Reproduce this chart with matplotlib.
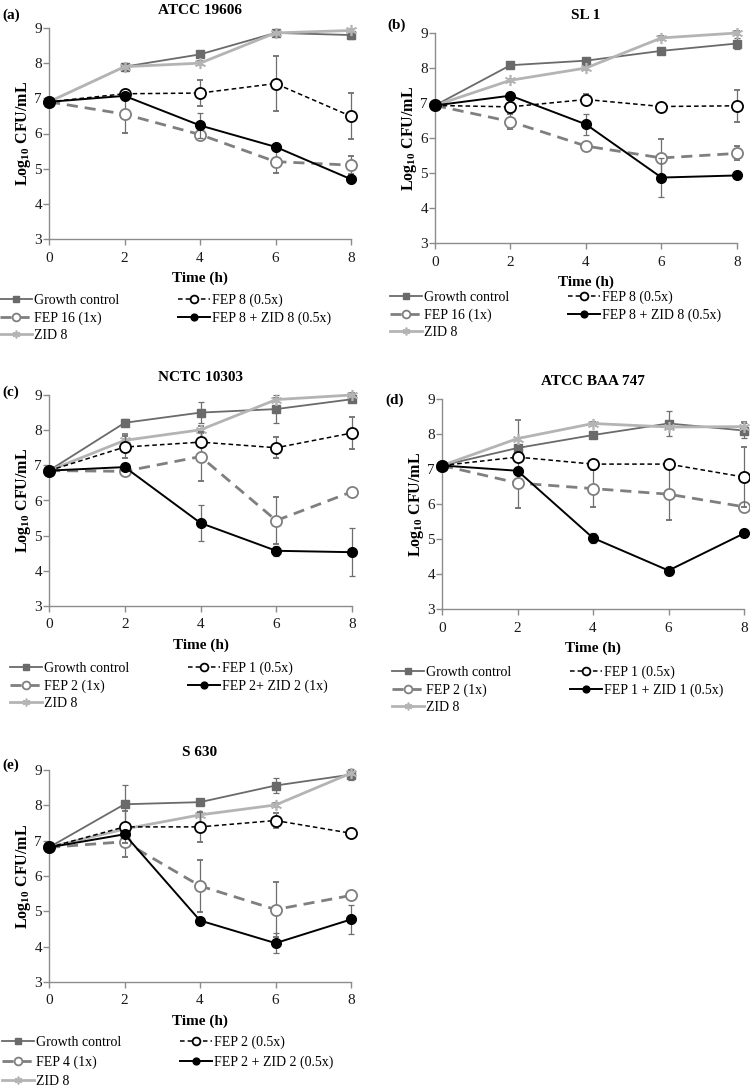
import numpy as np
import matplotlib
matplotlib.use('Agg')
import matplotlib.pyplot as plt

plt.rcParams['font.family'] = ['Liberation Serif', 'DejaVu Serif']
plt.rcParams['mathtext.fontset'] = 'custom'
plt.rcParams['mathtext.rm'] = 'Liberation Serif'
plt.rcParams['mathtext.bf'] = 'Liberation Serif:bold'

# time points (h)
hours = [0, 2, 4, 6, 8]

# panel titles and letters
titles = ['ATCC 19606', 'SL 1', 'NCTC 10303', 'ATCC BAA 747', 'S 630']
letters = ['(a)', '(b)', '(c)', '(d)', '(e)']

# legend labels per panel: growth, FEP 0.5x, FEP 1x, combination, ZID
labels_a = ['Growth control', 'FEP 8 (0.5x)', 'FEP 16 (1x)', 'FEP 8 + ZID 8 (0.5x)', 'ZID 8']
labels_b = ['Growth control', 'FEP 8 (0.5x)', 'FEP 16 (1x)', 'FEP 8 + ZID 8 (0.5x)', 'ZID 8']
labels_c = ['Growth control', 'FEP 1 (0.5x)', 'FEP 2 (1x)', 'FEP 2+ ZID 2 (1x)', 'ZID 8']
labels_d = ['Growth control', 'FEP 1 (0.5x)', 'FEP 2 (1x)', 'FEP 1 + ZID 1 (0.5x)', 'ZID 8']
labels_e = ['Growth control', 'FEP 2 (0.5x)', 'FEP 4 (1x)', 'FEP 2 + ZID 2 (0.5x)', 'ZID 8']

# (a) ATCC 19606
gc_a = [6.9, 7.9, 8.25, 8.86, 8.8]
gc_a_err = [0, 0.1, 0.05, 0.05, 0.12]
half_a = [6.9, 7.13, 7.15, 7.42, 6.49]
half_a_err = [0, 0.05, 0.36, 0.78, 0.66]
one_a = [6.9, 6.55, 5.97, 5.2, 5.1]
one_a_err = [0, 0.53, 0.08, 0.33, 0.25]
combo_a = [6.9, 7.07, 6.23, 5.62, 4.7]
combo_a_err = [0, 0.05, 0.35, 0.05, 0.08]
zid_a = [6.9, 7.9, 8.0, 8.86, 8.93]
zid_a_err = [0, 0.05, 0.05, 0.05, 0.05]

# (b) SL 1
gc_b = [6.93, 8.08, 8.21, 8.49, 8.7]
gc_b_err = [0, 0.05, 0.05, 0.05, 0.15]
half_b = [6.93, 6.89, 7.1, 6.9, 6.92]
half_b_err = [0, 0.1, 0.15, 0.05, 0.45]
one_b = [6.93, 6.47, 5.77, 5.43, 5.56]
one_b_err = [0, 0.22, 0.05, 0.55, 0.2]
combo_b = [6.93, 7.21, 6.39, 4.87, 4.93]
combo_b_err = [0, 0.05, 0.3, 0.55, 0.05]
zid_b = [6.93, 7.65, 8.0, 8.86, 9.0]
zid_b_err = [0, 0.05, 0.05, 0.05, 0.05]

# (c) NCTC 10303
gc_c = [6.85, 8.21, 8.5, 8.6, 8.88]
gc_c_err = [0, 0.1, 0.3, 0.4, 0.05]
half_c = [6.85, 7.52, 7.66, 7.5, 7.92]
half_c_err = [0, 0.3, 0.1, 0.3, 0.45]
one_c = [6.85, 6.83, 7.25, 5.43, 6.25]
one_c_err = [0, 0.05, 0.7, 0.67, 0.05]
combo_c = [6.85, 6.95, 5.36, 4.57, 4.53]
combo_c_err = [0, 0.05, 0.5, 0.15, 0.68]
zid_c = [6.85, 7.71, 8.01, 8.87, 9.0]
zid_c_err = [0, 0.18, 0.1, 0.05, 0.05]

# (d) ATCC BAA 747
gc_d = [7.1, 7.6, 7.97, 8.3, 8.1]
gc_d_err = [0, 0.05, 0.05, 0.35, 0.22]
half_d = [7.1, 7.34, 7.14, 7.14, 6.77]
half_d_err = [0, 0.05, 0.05, 0.05, 0.85]
one_d = [7.1, 6.6, 6.44, 6.28, 5.92]
one_d_err = [0, 0.7, 0.53, 0.75, 0.05]
combo_d = [7.1, 6.95, 5.03, 4.1, 5.16]
combo_d_err = [0, 0.05, 0.15, 0.07, 0.05]
zid_d = [7.1, 7.87, 8.3, 8.2, 8.21]
zid_d_err = [0, 0.53, 0.05, 0.05, 0.12]

# (e) S 630
gc_e = [6.81, 8.03, 8.09, 8.56, 8.87]
gc_e_err = [0, 0.55, 0.08, 0.2, 0.15]
half_e = [6.81, 7.39, 7.39, 7.57, 7.21]
half_e_err = [0, 0.45, 0.42, 0.22, 0.05]
one_e = [6.81, 6.97, 5.72, 5.05, 5.45]
one_e_err = [0, 0.42, 0.73, 0.78, 0.05]
combo_e = [6.81, 7.18, 4.74, 4.1, 4.77]
combo_e_err = [0, 0.05, 0.05, 0.28, 0.4]
zid_e = [6.81, 7.33, 7.73, 8.01, 8.91]
zid_e_err = [0, 0.05, 0.05, 0.05, 0.1]

panels = [
    (gc_a, gc_a_err, half_a, half_a_err, one_a, one_a_err, combo_a, combo_a_err, zid_a, zid_a_err, labels_a),
    (gc_b, gc_b_err, half_b, half_b_err, one_b, one_b_err, combo_b, combo_b_err, zid_b, zid_b_err, labels_b),
    (gc_c, gc_c_err, half_c, half_c_err, one_c, one_c_err, combo_c, combo_c_err, zid_c, zid_c_err, labels_c),
    (gc_d, gc_d_err, half_d, half_d_err, one_d, one_d_err, combo_d, combo_d_err, zid_d, zid_d_err, labels_d),
    (gc_e, gc_e_err, half_e, half_e_err, one_e, one_e_err, combo_e, combo_e_err, zid_e, zid_e_err, labels_e),
]

W, H = 750.0, 1090.0
# axes boxes in pixels: left, right, top, bottom
boxes = [(49, 351, 28, 239), (435, 737, 33, 243), (49, 352, 395, 606),
         (442, 744, 399, 609), (49, 351, 770, 982)]
letter_pos = [(2, 15), (387, 25), (2, 392), (385, 400), (2, 765)]
# legend upper-left corner (px) and row spacing
legend_pos = [(0, 294, 0.3), (390, 291, 0.3), (10, 662, 0.3), (392, 666, 0.3), (2, 1036, 0.45)]

fig = plt.figure(figsize=(7.5, 10.9), dpi=100)

axis_col = '#8c8c8c'
err_col = '#6e6e6e'

for i, p in enumerate(panels):
    gc, gce, hf, hfe, on, one, cb, cbe, zd, zde, labs = p
    l, r, t, b = boxes[i]
    ax = fig.add_axes([l / W, 1 - b / H, (r - l) / W, (b - t) / H])

    ekw = dict(ecolor=err_col, elinewidth=0.9, capsize=2.5, capthick=0.9, clip_on=False)
    h1 = ax.errorbar(hours, gc, yerr=gce, color='#6a6a6a', lw=1.3, marker='s', ms=5.5,
                     mfc='#6a6a6a', mec='#6a6a6a', label=labs[0], zorder=3, **ekw)
    h2 = ax.errorbar(hours, hf, yerr=hfe, color='black', lw=1.1, ls=(0, (3, 2)), marker='o', ms=8,
                     mfc='white', mec='black', mew=1.3, label=labs[1], zorder=5, **ekw)
    h3 = ax.errorbar(hours, on, yerr=one, color='#7f7f7f', lw=2.0, ls=(0, (4, 2.5)), marker='o', ms=8,
                     mfc='white', mec='#7f7f7f', mew=1.3, label=labs[2], zorder=4, **ekw)
    h4 = ax.errorbar(hours, cb, yerr=cbe, color='black', lw=1.4, marker='o', ms=7,
                     mfc='black', mec='black', label=labs[3], zorder=6, **ekw)
    h5 = ax.errorbar(hours, zd, yerr=zde, color='#b4b4b4', lw=2.0, marker=(6, 2, 0), ms=8,
                     mec='#b4b4b4', mew=1.2, label=labs[4], zorder=3, **ekw)
    for h in (h1, h2, h3, h4, h5):
        for art in h.lines:
            if hasattr(art, 'set_clip_on'):
                art.set_clip_on(False)

    ax.set_xlim(0, 8)
    ax.set_ylim(3, 9)
    ax.set_xticks([0, 2, 4, 6, 8])
    ax.set_yticks([3, 4, 5, 6, 7, 8, 9])
    for s in ('top', 'right'):
        ax.spines[s].set_visible(False)
    for s in ('left', 'bottom'):
        ax.spines[s].set_color(axis_col)
        ax.spines[s].set_linewidth(1.0)
    ax.tick_params(axis='both', colors=axis_col, labelcolor='#1a1a1a', labelsize=11, width=1.0)
    ax.tick_params(axis='x', direction='out', length=4, pad=5)
    ax.tick_params(axis='y', direction='out', length=4, pad=1)

    ax.set_xlabel('Time (h)', fontsize=11, fontweight='bold', labelpad=5)
    ax.set_ylabel(r'Log$_{\mathbf{10}}$ CFU/mL', fontsize=11.5, fontweight='bold', labelpad=1)
    ax.set_title(titles[i], fontsize=11, fontweight='bold', pad=10)

    lx, ly = letter_pos[i]
    fig.text(lx / W, 1 - ly / H, letters[i], fontsize=11, fontweight='bold', ha='left', va='center')

    gx, gy, sp = legend_pos[i]
    handles = [h1[0], h3[0], h5[0], h2[0], h4[0]]
    names = [labs[0], labs[2], labs[4], labs[1], labs[3]]
    fig.legend(handles, names, loc='upper left', bbox_to_anchor=(gx / W, 1 - gy / H),
               ncol=2, frameon=False, fontsize=10, handlelength=2.3, handletextpad=0.15,
               labelspacing=sp, columnspacing=4.2, borderpad=0, borderaxespad=0,
               markerscale=0.7)

plt.savefig('out.png', dpi=100)
